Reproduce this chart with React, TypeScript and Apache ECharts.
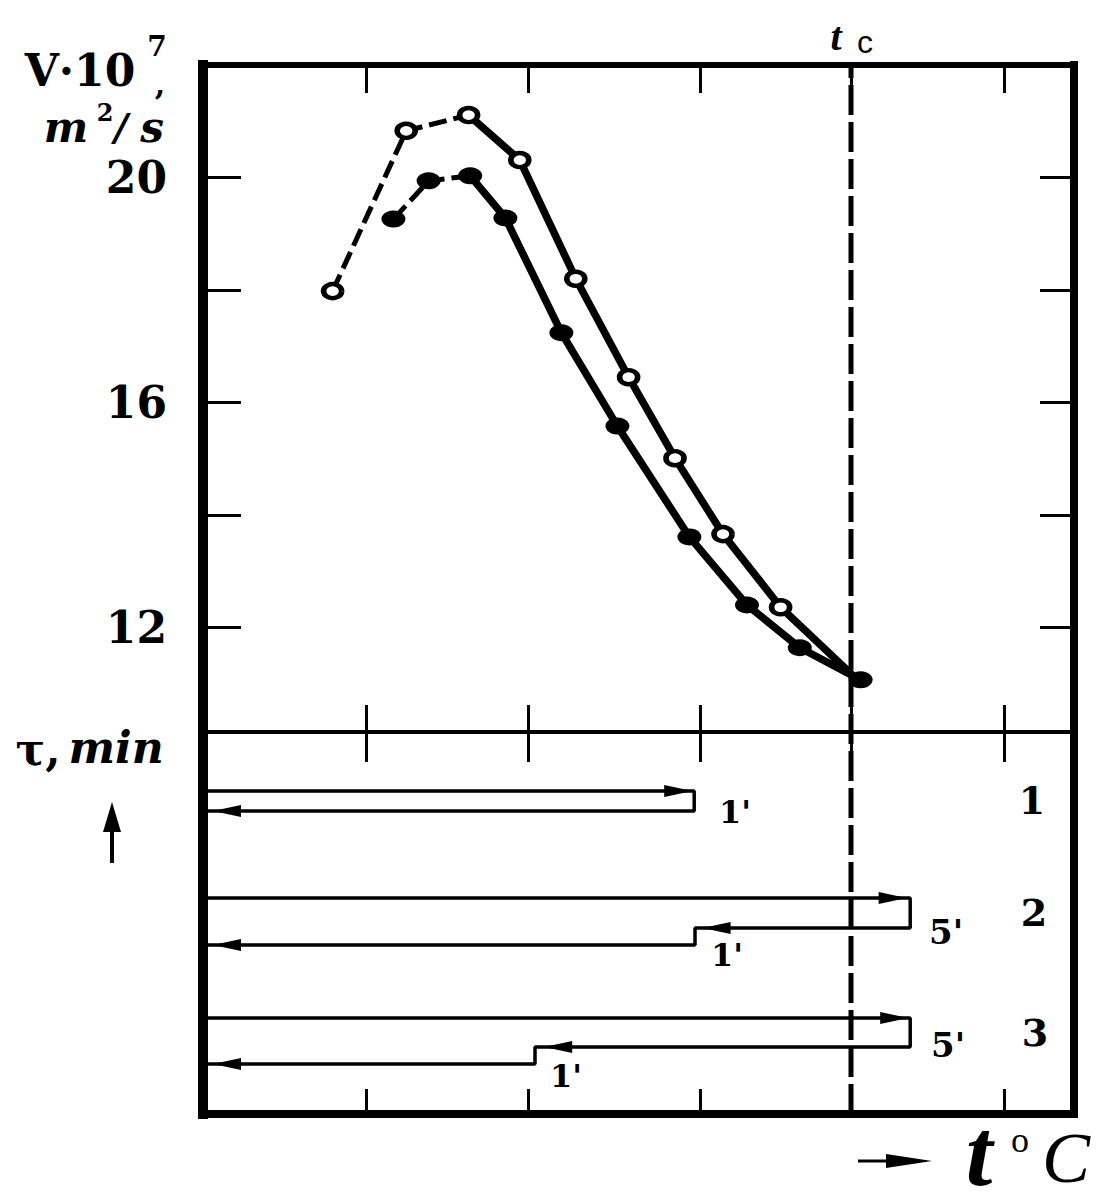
import React, { useEffect, useRef } from 'react';
import * as echarts from 'echarts';

// ---------- data ----------
// x: temperature in schematic units (tick marks), tc = critical temperature
const xTicks = [1.02, 2.03, 3.11, 4.05, 5.01];
const tcX = 4.05;
const xMax = 5.44375;

// upper panel: kinematic viscosity v·10^7, m²/s
const yTickValues = [12, 14, 16, 18, 20];
const yLabelValues = [12, 16, 20];

const openX = [0.81, 1.27, 1.66, 1.98, 2.33, 2.66, 2.95, 3.25, 3.61, 4.09];
const openY = [17.98, 20.83, 21.11, 20.31, 18.2, 16.45, 15.01, 13.66, 12.36, 11.07];
const filledX = [1.19, 1.41, 1.67, 1.89, 2.24, 2.59, 3.04, 3.4, 3.73, 4.11];
const filledY = [19.26, 19.94, 20.03, 19.28, 17.24, 15.58, 13.61, 12.4, 11.64, 11.07];
const dashedCount = 3;

// lower panel: thermal regimes (temperature vs time row)
const mode1X = [0, 3.07, 3.07, 0];
const mode1Y = [5.9, 5.9, 7.9, 7.9];
const mode2X = [0, 4.42, 4.42, 3.075, 3.075, 0];
const mode2Y = [16.6, 16.6, 19.6, 19.6, 21.3, 21.3];
const mode3X = [0, 4.42, 4.42, 2.075, 2.075, 0];
const mode3Y = [28.6, 28.6, 31.5, 31.5, 33.2, 33.2];
const arrowRightX = [2.97, 4.31, 4.32];
const arrowRightY = [5.9, 16.6, 28.6];
const arrowLeftX = [0.15, 3.21, 0.15, 2.22, 0.15];
const arrowLeftY = [7.9, 19.6, 21.3, 31.5, 33.2];

const modeNames = ['1', '2', '3'];
const holdLabels = ["1'", "5'", "1'", "5'", "1'"];

const black = '#000';
const SERIF = '"DejaVu Serif", serif';
const TIMES = '"Liberation Serif", serif';

const pts = (xs: number[], ys: number[]) => xs.map((x, i) => [x, ys[i]]);

function txt(text: string, x: number, y: number, font: string, extra: any = {}) {
  return {
    type: 'text',
    x,
    y,
    z: 100,
    ...extra,
    style: {
      text,
      font,
      fill: black,
      align: 'center',
      verticalAlign: 'middle',
      textAlign: 'center',
      textVerticalAlign: 'middle',
    },
  };
}

export default function App() {
  const ref = useRef<HTMLDivElement>(null);

  useEffect(() => {
    document.body.style.margin = '0';
    const chart = echarts.init(ref.current as HTMLDivElement, null, { renderer: 'svg' });

    const line = (w: number) => ({ show: true, onZero: false, lineStyle: { color: black, width: w, cap: 'square' } });
    const xBase = {
      type: 'value',
      min: 0,
      max: xMax,
      interval: 1,
      splitLine: { show: false },
      axisLabel: { show: false },
    };

    const option: any = {
      animation: false,
      backgroundColor: '#fff',
      grid: [
        { left: 203, top: 65, width: 871, height: 675, outerBoundsMode: 'none' },
        { left: 203, top: 732, width: 871, height: 382, outerBoundsMode: 'none' },
        { left: 203, top: 65, width: 871, height: 1049, outerBoundsMode: 'none' },
      ],
      xAxis: [
        {
          ...xBase,
          gridIndex: 0,
          position: 'top',
          axisLine: line(6),
          axisTick: { show: true, inside: true, length: 28, customValues: xTicks, lineStyle: { color: black, width: 3 } },
        },
        {
          ...xBase,
          gridIndex: 1,
          position: 'top',
          axisLine: line(4),
          axisTick: { show: true, inside: true, length: 30, customValues: xTicks, lineStyle: { color: black, width: 3 } },
        },
        {
          ...xBase,
          gridIndex: 1,
          position: 'top',
          axisLine: { show: false },
          axisTick: { show: true, inside: false, length: 27, customValues: xTicks, lineStyle: { color: black, width: 3 } },
        },
        {
          ...xBase,
          gridIndex: 1,
          position: 'bottom',
          axisLine: line(8),
          axisTick: { show: true, inside: true, length: 25, customValues: xTicks, lineStyle: { color: black, width: 3 } },
        },
        { ...xBase, gridIndex: 2, show: false },
      ],
      yAxis: [
        {
          type: 'value',
          gridIndex: 0,
          position: 'left',
          min: 10,
          max: 22,
          interval: 2,
          splitLine: { show: false },
          axisLine: line(10),
          axisTick: { show: true, inside: true, length: 38, customValues: yTickValues, lineStyle: { color: black, width: 3 } },
          axisLabel: {
            show: true,
            customValues: yLabelValues,
            formatter: (v: number) => (yLabelValues.indexOf(v) >= 0 ? String(v) : ''),
            margin: 36,
            color: black,
            fontFamily: SERIF,
            fontWeight: 'bold',
            fontSize: 44,
          },
        },
        {
          type: 'value',
          gridIndex: 0,
          position: 'right',
          min: 10,
          max: 22,
          interval: 2,
          splitLine: { show: false },
          axisLine: line(8),
          axisTick: { show: true, inside: true, length: 34, customValues: yTickValues, lineStyle: { color: black, width: 3 } },
          axisLabel: { show: false },
        },
        {
          type: 'value',
          gridIndex: 1,
          position: 'left',
          min: 0,
          max: 38.2,
          inverse: true,
          splitLine: { show: false },
          axisLine: line(10),
          axisTick: { show: false },
          axisLabel: { show: false },
        },
        {
          type: 'value',
          gridIndex: 1,
          position: 'right',
          min: 0,
          max: 38.2,
          inverse: true,
          splitLine: { show: false },
          axisLine: line(8),
          axisTick: { show: false },
          axisLabel: { show: false },
        },
        { type: 'value', gridIndex: 2, min: 0, max: 1, show: false },
      ],
      series: [
        // tc line
        {
          type: 'line',
          xAxisIndex: 4,
          yAxisIndex: 4,
          data: [[tcX, 0], [tcX, 1]],
          symbol: 'none',
          silent: true,
          lineStyle: { color: black, width: 5, type: [30, 7] },
        },
        // open-circle curve
        {
          type: 'line',
          xAxisIndex: 0,
          yAxisIndex: 0,
          data: pts(openX, openY).slice(0, dashedCount),
          symbol: 'none',
          lineStyle: { color: black, width: 5, type: [18, 7] },
        },
        {
          type: 'line',
          xAxisIndex: 0,
          yAxisIndex: 0,
          data: pts(openX, openY).slice(dashedCount - 1),
          symbol: 'none',
          lineStyle: { color: black, width: 7.5, join: 'round' },
        },
        // filled curve
        {
          type: 'line',
          xAxisIndex: 0,
          yAxisIndex: 0,
          data: pts(filledX, filledY).slice(0, dashedCount),
          symbol: 'none',
          lineStyle: { color: black, width: 5, type: [18, 7] },
        },
        {
          type: 'line',
          xAxisIndex: 0,
          yAxisIndex: 0,
          data: pts(filledX, filledY).slice(dashedCount - 1),
          symbol: 'none',
          lineStyle: { color: black, width: 7.5, join: 'round' },
        },
        {
          type: 'scatter',
          xAxisIndex: 0,
          yAxisIndex: 0,
          data: pts(openX, openY).slice(0, -1),
          symbol: 'circle',
          symbolSize: [18, 14],
          itemStyle: { color: '#fff', borderColor: black, borderWidth: 5, opacity: 1 },
          z: 5,
        },
        {
          type: 'scatter',
          xAxisIndex: 0,
          yAxisIndex: 0,
          data: pts(filledX, filledY),
          symbol: 'circle',
          symbolSize: [24, 17],
          itemStyle: { color: black, opacity: 1 },
          z: 6,
        },
        // regimes
        ...[pts(mode1X, mode1Y), pts(mode2X, mode2Y), pts(mode3X, mode3Y)].map((d) => ({
          type: 'line',
          xAxisIndex: 1,
          yAxisIndex: 2,
          data: d,
          symbol: 'none',
          lineStyle: { color: black, width: 3.5 },
        })),
        {
          type: 'scatter',
          xAxisIndex: 1,
          yAxisIndex: 2,
          data: pts(arrowRightX, arrowRightY),
          symbol: 'path://M0,0L30,6L0,12Z',
          symbolSize: [28, 12],
          itemStyle: { color: black, opacity: 1 },
          z: 6,
        },
        {
          type: 'scatter',
          xAxisIndex: 1,
          yAxisIndex: 2,
          data: pts(arrowLeftX, arrowLeftY),
          symbol: 'path://M0,0L30,6L0,12Z',
          symbolSize: [28, 12],
          symbolRotate: 180,
          itemStyle: { color: black, opacity: 1 },
          z: 6,
        },
      ],
      graphic: [
        // y axis title
        txt('V·10', 80, 70, `bold 44px ${SERIF}`),
        txt('7', 157, 46, `bold 28px ${SERIF}`),
        txt(',', 160, 84, `bold 30px ${SERIF}`),
        txt('m', 66, 127, `italic bold 42px ${SERIF}`),
        txt('2', 105, 112, `bold 24px ${SERIF}`),
        txt('/', 121, 126, `italic bold 38px ${SERIF}`),
        txt('s', 152, 127, `italic bold 42px ${SERIF}`),
        // tau axis title
        txt('τ,', 38, 749, `bold 44px ${SERIF}`),
        txt('min', 116, 747, `italic bold 44px ${SERIF}`),
        { type: 'line', z: 100, shape: { x1: 112, y1: 863, x2: 112, y2: 825 }, style: { stroke: black, lineWidth: 4 } },
        { type: 'polygon', z: 100, shape: { points: [[103, 832], [112, 802], [121, 832]] }, style: { fill: black } },
        // tc label
        txt('t', 836, 36, `italic bold 40px ${TIMES}`),
        txt('c', 865, 42, `32px "Liberation Sans", sans-serif`),
        // x axis title
        { type: 'line', z: 100, shape: { x1: 858, y1: 1161, x2: 895, y2: 1161 }, style: { stroke: black, lineWidth: 3 } },
        { type: 'polygon', z: 100, shape: { points: [[886, 1154], [932, 1161], [886, 1168]] }, style: { fill: black } },
        txt('t', 979, 1152, `italic bold 96px ${TIMES}`),
        txt('o', 1020, 1140, `36px ${TIMES}`),
        txt('C', 1066, 1158, `italic 72px ${TIMES}`),
        // regime labels
        txt(modeNames[0], 1032, 800, `bold 38px ${SERIF}`),
        txt(modeNames[1], 1034, 912, `bold 38px ${SERIF}`),
        txt(modeNames[2], 1035, 1032, `bold 38px ${SERIF}`),
        txt(holdLabels[0], 735, 812, `bold 32px ${SERIF}`),
        txt(holdLabels[1], 946, 932, `bold 34px ${SERIF}`),
        txt(holdLabels[2], 727, 955, `bold 32px ${SERIF}`),
        txt(holdLabels[3], 948, 1045, `bold 34px ${SERIF}`),
        txt(holdLabels[4], 566, 1076, `bold 32px ${SERIF}`),
      ],
    };

    chart.setOption(option);
    return () => chart.dispose();
  }, []);

  return <div ref={ref} style={{ width: 1110, height: 1204 }} />;
}
